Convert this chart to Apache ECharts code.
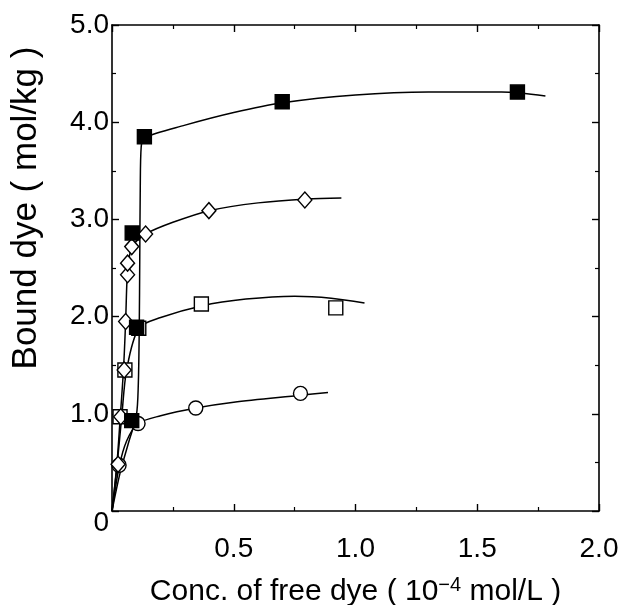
<!DOCTYPE html>
<html>
<head>
<meta charset="utf-8">
<script src="https://cdn.jsdelivr.net/npm/echarts@6/dist/echarts.min.js"></script>
<style>
  html, body { margin: 0; padding: 0; background: #fff; }
  #chart { width: 622px; height: 605px; }
</style>
</head>
<body>
<div id="chart"></div>
<script>
// measured points (conc. 10^-4 mol/L, bound dye mol/kg)
var filledSquares = [[0.081, 0.93], [0.101, 1.89], [0.083, 2.86], [0.133, 3.85], [0.699, 4.21], [1.665, 4.31]];
var openDiamonds = [[0.025, 0.48], [0.036, 0.97], [0.05, 1.45], [0.056, 1.95], [0.064, 2.43], [0.064, 2.55], [0.081, 2.72], [0.138, 2.85], [0.398, 3.09], [0.792, 3.2]];
var openSquares = [[0.033, 0.97], [0.053, 1.45], [0.11, 1.88], [0.367, 2.13], [0.919, 2.09]];
var openCircles = [[0.029, 0.47], [0.107, 0.9], [0.344, 1.06], [0.774, 1.21]];

// fitted curves
var filledCurve = [[0, 0], [0.033, 0.39], [0.07, 0.72], [0.1, 0.98], [0.108, 1.3], [0.112, 1.9], [0.114, 2.6], [0.116, 3.3], [0.12, 3.75], [0.133, 3.84], [0.3, 3.97], [0.5, 4.1], [0.7, 4.2], [1.0, 4.28], [1.3, 4.31], [1.6, 4.31], [1.78, 4.27]];
var diamondCurve = [[0, 0], [0.02, 0.48], [0.034, 0.97], [0.047, 1.45], [0.056, 1.95], [0.062, 2.4], [0.07, 2.6], [0.085, 2.73], [0.138, 2.85], [0.25, 2.97], [0.4, 3.09], [0.6, 3.17], [0.8, 3.21], [0.942, 3.22]];
var squareCurve = [[0, 0], [0.02, 0.45], [0.04, 0.97], [0.06, 1.45], [0.11, 1.88], [0.2, 1.99], [0.367, 2.11], [0.55, 2.18], [0.75, 2.21], [0.9, 2.19], [1.037, 2.14]];
var circleCurve = [[0, 0], [0.029, 0.45], [0.06, 0.72], [0.107, 0.9], [0.2, 0.98], [0.344, 1.06], [0.5, 1.12], [0.774, 1.19], [0.887, 1.22]];

var xTicks = { min: 0, max: 2, interval: 0.5 };
var yTicks = { min: 0, max: 5, interval: 1 };

var chart = echarts.init(document.getElementById('chart'));
var font = 'Liberation Sans';

function curve(data) {
  return {
    type: 'line', data: data, smooth: 0.3, showSymbol: false, silent: true,
    lineStyle: { color: '#000', width: 1.5 }, z: 2
  };
}
function marks(data, symbol, size, fill) {
  return {
    type: 'scatter', data: data, symbol: symbol, symbolSize: size, z: 3,
    itemStyle: { color: fill, borderColor: '#000', borderWidth: 1.4, opacity: 1 }
  };
}

var axisCommon = {
  axisLine: { show: true, onZero: false, lineStyle: { color: '#000', width: 1.6 } },
  axisTick: { show: true, inside: true, length: 7, lineStyle: { color: '#000', width: 1.4 } },
  minorTick: { show: true, splitNumber: 2, length: 4, lineStyle: { color: '#000', width: 1.2 } },
  splitLine: { show: false }
};

chart.setOption({
  animation: false,
  backgroundColor: '#fff',
  grid: { left: 112, right: 23, top: 25, bottom: 94, outerBoundsMode: 'none', containLabel: false },
  xAxis: [
    Object.assign({
      type: 'value', min: xTicks.min, max: xTicks.max, interval: xTicks.interval,
      position: 'bottom',
      name: 'Conc. of free dye ( 10{sup|−4} mol/L )',
      nameLocation: 'middle', nameGap: 64,
      nameTextStyle: {
        fontFamily: font, fontSize: 30, color: '#000',
        rich: { sup: { fontFamily: font, fontSize: 20, color: '#000', verticalAlign: 'top', padding: [0, 0, 14, 0] } }
      },
      axisLabel: {
        fontFamily: font, fontSize: 28, color: '#000', margin: 24,
        formatter: function (v) { return v === 0 ? '' : v.toFixed(1); }
      }
    }, axisCommon),
    Object.assign({
      type: 'value', min: xTicks.min, max: xTicks.max, interval: xTicks.interval,
      position: 'top', axisLabel: { show: false }
    }, axisCommon)
  ],
  yAxis: [
    Object.assign({
      type: 'value', min: yTicks.min, max: yTicks.max, interval: yTicks.interval,
      position: 'left',
      name: 'Bound dye ( mol/kg )',
      nameLocation: 'middle', nameGap: 68,
      nameTextStyle: { fontFamily: font, fontSize: 35, color: '#000', padding: [0, 0, 0, 120] },
      axisLabel: {
        fontFamily: font, fontSize: 28, color: '#000', margin: 3,
        formatter: function (v) { return v === 0 ? '{z|0}' : v.toFixed(1); },
        rich: { z: { fontFamily: font, fontSize: 28, color: '#000', padding: [24, 0, 0, 0] } }
      }
    }, axisCommon),
    Object.assign({
      type: 'value', min: yTicks.min, max: yTicks.max, interval: yTicks.interval,
      position: 'right', axisLabel: { show: false }
    }, axisCommon)
  ],
  series: [
    curve(filledCurve),
    curve(diamondCurve),
    curve(squareCurve),
    curve(circleCurve),
    marks(openCircles, 'circle', 14, '#fff'),
    marks(openSquares, 'rect', 14, '#fff'),
    marks(openDiamonds, 'diamond', [14, 16], '#fff'),
    marks(filledSquares, 'rect', 14, '#000')
  ]
});
</script>
</body>
</html>
